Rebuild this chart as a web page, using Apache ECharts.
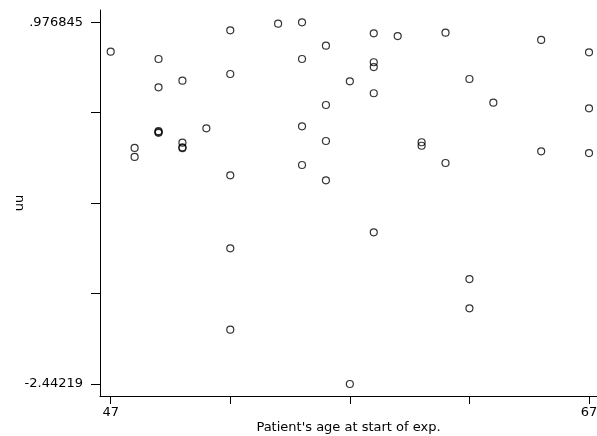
<!DOCTYPE html>
<html>
<head>
<meta charset="utf-8">
<script src="https://cdn.jsdelivr.net/npm/echarts@6/dist/echarts.min.js"></script>
<style>
  html, body { margin: 0; padding: 0; background: #fff; }
  #main { width: 597px; height: 436px; }
</style>
</head>
<body>
<div id="main"></div>
<script>
// patient age and residual uu
var age = [47, 49, 49, 50, 52, 52, 54, 55, 55, 56, 57, 56, 55, 56, 55, 56, 52, 51,
  49, 49, 49, 50, 50, 50, 48, 48, 58, 59, 61, 58, 58, 58, 62, 63, 65, 67, 67,
  60, 60, 61, 65, 67, 52, 52, 57, 58, 62, 62];
var uu = [0.699, 0.630, 0.362, 0.425, 0.901, 0.488, 0.964, 0.976845, 0.630, 0.756,
  0.419, 0.195, -0.006, -0.145, -0.372, -0.517, -0.470, -0.025,
  -0.052, -0.060, -0.068, -0.161, -0.205, -0.213, -0.211, -0.296,
  0.873, 0.847, 0.879, 0.599, 0.554, 0.306, 0.441, 0.217, 0.810, 0.693, 0.164,
  -0.157, -0.190, -0.353, -0.243, -0.259, -1.160, -1.929, -2.44219, -1.008, -1.450, -1.727];

var xTicks = [47, 52, 57, 62, 67];
var xLabels = [47, 67];
var yTicks = [-2.44219, -1.587435, -0.73268, 0.122075, 0.976845];
var yLabels = [-2.44219, 0.976845];
var yLabelText = ['-2.44219', '.976845'];

var points = [];
for (var i = 0; i < age.length; i++) {
  points.push([age[i], uu[i]]);
}

var chart = echarts.init(document.getElementById('main'));
var font = 'DejaVu Sans';
var option = {
  animation: false,
  backgroundColor: '#fff',
  grid: { left: 100, right: 0, top: 10, bottom: 40, containLabel: false, outerBoundsMode: 'none' },
  xAxis: {
    type: 'value',
    min: 46.553,
    max: 67.334,
    name: "Patient's age at start of exp.",
    nameLocation: 'middle',
    nameGap: 25,
    nameMoveOverlap: false,
    nameTextStyle: { color: '#000', fontFamily: font, fontSize: 13 },
    axisLine: { onZero: false, lineStyle: { color: '#000', width: 1 } },
    axisTick: { show: true, length: 8, customValues: xTicks, lineStyle: { color: '#000' } },
    axisLabel: { customValues: xLabels, color: '#000', fontFamily: font, fontSize: 13, margin: 10 },
    splitLine: { show: false }
  },
  yAxis: {
    type: 'value',
    min: -2.5556,
    max: 1.0931,
    name: 'uu',
    nameLocation: 'middle',
    nameGap: 74,
    nameMoveOverlap: false,
    nameTextStyle: { color: '#000', fontFamily: font, fontSize: 13 },
    axisLine: { show: true, onZero: false, lineStyle: { color: '#000', width: 1 } },
    axisTick: { show: true, length: 9, customValues: yTicks, lineStyle: { color: '#000' } },
    axisLabel: {
      customValues: yLabels,
      color: '#000',
      fontFamily: font,
      fontSize: 13,
      margin: 17,
      formatter: function (v) {
        for (var k = 0; k < yLabels.length; k++) {
          if (Math.abs(v - yLabels[k]) < 1e-4) return yLabelText[k];
        }
        return '';
      }
    },
    splitLine: { show: false }
  },
  series: [{
    type: 'scatter',
    data: points,
    symbol: 'circle',
    symbolSize: 7,
    itemStyle: { color: 'rgba(0,0,0,0)', borderColor: '#000', borderWidth: 1.2 }
  }]
};
chart.setOption(option);
</script>
</body>
</html>
